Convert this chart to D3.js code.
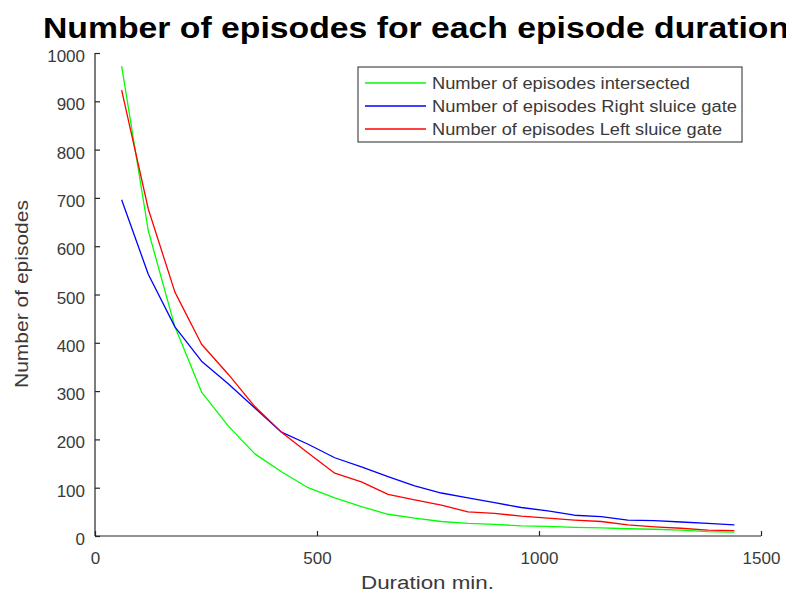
<!DOCTYPE html>
<html>
<head>
  <meta charset="utf-8">
  <title>episodes</title>
  <style>
    * { margin: 0; padding: 0; }
    body { background: #fff; width: 786px; height: 595px; overflow: hidden; }
    text { font-family: "Liberation Sans", Arial, sans-serif; }
  </style>
</head>
<body>
  <svg id="svg"></svg>
  <script src="https://cdnjs.cloudflare.com/ajax/libs/d3/7.8.5/d3.min.js"></script>
  <script>
    // durations (min)
    const durations = [60, 120, 180, 240, 300, 360, 420, 480, 540, 600, 660, 720,
      780, 840, 900, 960, 1020, 1080, 1140, 1200, 1260, 1320, 1380, 1440];

    const intersected = [973, 632, 433, 298, 228, 170, 133, 100, 79, 61, 45, 37,
      30, 26, 24, 21, 20, 18, 17, 15, 14, 12, 9, 8];
    const rightGate = [696, 542, 433, 362, 315, 265, 215, 190, 162, 143, 123, 104,
      89, 79, 69, 59, 52, 43, 40, 33, 32, 29, 26, 23];
    const leftGate = [923, 677, 505, 397, 335, 268, 215, 172, 130, 112, 86, 75,
      64, 50, 47, 41, 37, 33, 30, 23, 19, 16, 12, 11];

    const seriesNames = ['Number of episodes intersected', 'Number of episodes Right sluice gate', 'Number of episodes Left sluice gate'];
    const seriesColors = ['#00ff00', '#0000ff', '#ff0000'];
    const xTicks = [0, 500, 1000, 1500];
    const yTicks = [0, 100, 200, 300, 400, 500, 600, 700, 800, 900, 1000];

    const width = 786, height = 595;
    const margin = { top: 53, right: 25, bottom: 59, left: 95 };

    const svg = d3.select('#svg').attr('width', width).attr('height', height);

    const x = d3.scaleLinear().domain([0, 1500]).range([margin.left, margin.left + 666]);
    const y = d3.scaleLinear().domain([0, 1000]).range([536, margin.top]);

    const axisColor = '#262626';
    const labelColor = '#3a3a3a';

    // x axis (ticks pointing inward)
    const gx = svg.append('g')
      .attr('transform', `translate(0, ${y(0)})`)
      .call(d3.axisBottom(x).tickValues(xTicks).tickSize(-5).tickPadding(16).tickFormat(d3.format('d')));
    // y axis
    const gy = svg.append('g')
      .attr('transform', `translate(${x(0)}, 0)`)
      .call(d3.axisLeft(y).tickValues(yTicks).tickSize(-5).tickPadding(10).tickFormat(d3.format('d')));

    [gx, gy].forEach(g => {
      g.select('.domain').attr('stroke', axisColor).attr('stroke-width', 1.2);
      g.selectAll('.tick line').attr('stroke', axisColor).attr('stroke-width', 1.2);
      g.selectAll('.tick text').attr('fill', labelColor).style('font-size', '17px');
    });
    gy.selectAll('.tick text').attr('dy', '0.5em');
    gx.select('.domain').attr('d', `M${x(0)},0H${x(1500)}`);
    gy.select('.domain').attr('d', `M0,${y(0)}V${y(1000)}`);

    // lines
    const line = d3.line().x((d, i) => x(durations[i])).y(d => y(d));
    [intersected, rightGate, leftGate].forEach((s, i) => {
      svg.append('path')
        .datum(s)
        .attr('fill', 'none')
        .attr('stroke', seriesColors[i])
        .attr('stroke-width', 1.3)
        .attr('stroke-linejoin', 'round')
        .attr('d', line);
    });

    // title
    svg.append('text')
      .attr('x', 43)
      .attr('y', 38)
      .attr('font-weight', 'bold')
      .attr('font-size', 29)
      .attr('textLength', 746)
      .attr('lengthAdjust', 'spacingAndGlyphs')
      .attr('fill', '#000')
      .text('Number of episodes for each episode duration');

    // axis labels
    svg.append('text')
      .attr('x', 361)
      .attr('y', 589)
      .attr('font-size', 18)
      .attr('textLength', 133)
      .attr('lengthAdjust', 'spacingAndGlyphs')
      .attr('fill', labelColor)
      .text('Duration min.');

    svg.append('text')
      .attr('transform', 'translate(28, 388) rotate(-90)')
      .attr('font-size', 18)
      .attr('textLength', 188)
      .attr('lengthAdjust', 'spacingAndGlyphs')
      .attr('fill', labelColor)
      .text('Number of episodes');

    // legend
    const legendLengths = [258, 305, 290];
    const legend = svg.append('g').attr('transform', 'translate(358, 67)');
    legend.append('rect')
      .attr('width', 384).attr('height', 75)
      .attr('fill', '#fff')
      .attr('stroke', axisColor)
      .attr('stroke-width', 1);
    seriesNames.forEach((name, i) => {
      const ly = 16 + i * 23;
      legend.append('line')
        .attr('x1', 7).attr('x2', 68)
        .attr('y1', ly).attr('y2', ly)
        .attr('stroke', seriesColors[i])
        .attr('stroke-width', 1.3);
      legend.append('text')
        .attr('x', 74)
        .attr('y', ly + 6)
        .attr('font-size', 16)
        .attr('textLength', legendLengths[i])
        .attr('lengthAdjust', 'spacingAndGlyphs')
        .attr('fill', labelColor)
        .text(name);
    });
  </script>
</body>
</html>
